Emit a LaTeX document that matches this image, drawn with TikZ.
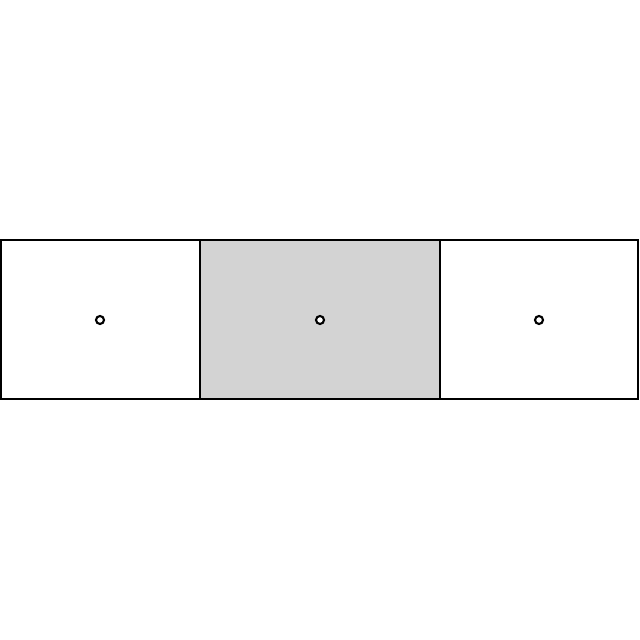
\documentclass[tikz,border=0pt]{standalone}
\usepackage{tikz}

\tikzset{
  cell/.style={shape=rectangle, draw=black, line width=1.5pt, inner sep=0pt, outer sep=0pt, minimum height=3.975cm},
  dot/.style={shape=circle, draw=black, line width=1.5pt, fill=white, inner sep=0pt, minimum size=0.2cm}
}
\definecolor{cellgray}{HTML}{D3D3D3}

\begin{document}
\begin{tikzpicture}
			\useasboundingbox (0,0) rectangle (16,16);
			\node[cell, minimum width=4.975cm] (left) at (2.5125,8.0125) {};
			\node[cell, minimum width=6cm, fill=cellgray] (mid) at (8,8.0125) {};
			\node[cell, minimum width=4.95cm] (right) at (13.475,8.0125) {};
			
			\node[dot] (l) at (2.5,8) {};
			\node[dot] (m) at (8,8) {};
			\node[dot] (r) at (13.475,8) {};
		\end{tikzpicture}
\end{document}
